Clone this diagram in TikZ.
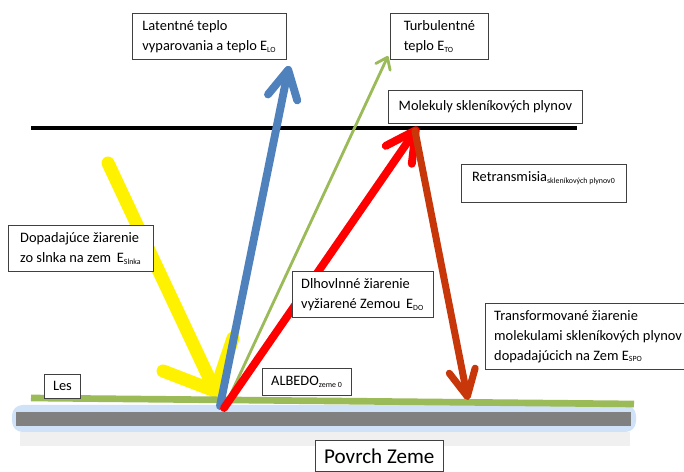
\documentclass[tikz,border=0pt]{standalone}
\usepackage{fontspec}
\setmainfont{Carlito}
\usetikzlibrary{arrows.meta}
\definecolor{modra}{RGB}{79,129,189}
\definecolor{zelena}{RGB}{155,187,89}
\definecolor{tmavocervena}{RGB}{200,55,10}
\definecolor{ziara}{RGB}{208,226,248}
\newcommand{\dolny}[1]{\textsubscript{\fontsize{4.5}{5}\selectfont #1}}

\begin{document}
\begin{tikzpicture}[x=0.02cm, y=-0.02cm,
    popis/.style={draw=black!75, fill=white, line width=0.5pt, anchor=north west,
      align=left, inner xsep=5pt, inner ysep=4pt, font=\fontsize{8.2}{11.3}\selectfont},
    luc/.style={line cap=round, line join=round}]
  \useasboundingbox (0,0) rectangle (684,472);

  \fill[ziara, rounded corners=6pt] (12,405) rectangle (636,432);
  \fill[black!6] (20,432) rectangle (630,446);
  \fill[black!50] (16,412) rectangle (631,426);
  \draw[line width=2pt] (31,128) -- (577,128);

  \coordinate (slnko) at (108,163);
  \coordinate (dopad) at (218,397);
  \coordinate (latentZ) at (220,406);
  \coordinate (latentK) at (289,66);
  \coordinate (turbZ) at (228,400);
  \coordinate (turbK) at (388,56);
  \coordinate (dlhoZ) at (224,408);
  \coordinate (molekula) at (418,127);
  \coordinate (retrZ) at (415,131);
  \coordinate (retrK) at (468,400);

  \draw[luc, yellow, line width=7.4pt, -{Straight Barb[length=23pt,width=44pt,round]}] (slnko) -- (dopad);
  \draw[zelena, line width=3.8pt] (31,398) -- (634,404);
  \draw[luc, modra, line width=4.5pt, -{Straight Barb[length=16pt,width=17pt,round]}] (latentZ) -- (latentK);
  \draw[luc, zelena, line width=1.6pt, -{Straight Barb[length=6pt,width=9pt,round]}] (turbZ) -- (turbK);
  \draw[luc, red, line width=4.5pt, -{Straight Barb[length=17pt,width=18pt,round]}] (dlhoZ) -- (molekula);
  \draw[luc, tmavocervena, line width=4pt, -{Straight Barb[length=15pt,width=15pt,round]}] (retrZ) -- (retrK);

  \node[popis, minimum width=3.08cm] (latent) at (132,13) {Latentné teplo\\vyparovania a teplo E\dolny{LO}};
  \node[popis, minimum width=1.96cm] (turb) at (390,13) {Turbulentné\\teplo E\dolny{TO}};
  \node[popis, minimum width=3.88cm, minimum height=0.66cm] (molekuly) at (388,90) {Molekuly skleníkových plynov};
  \node[popis, minimum width=3.3cm, text depth=8pt] (retrans) at (461,164) {Retransmisia\dolny{skleníkových plynov0}};
  \node[popis, minimum width=2.9cm] (dopadtext) at (8,225) {Dopadajúce žiarenie\\zo slnka na zem \,E\dolny{Slnka}};
  \node[popis, minimum width=2.72cm] (dlhovln) at (292,271) {Dlhovlnné žiarenie\\vyžiarené Zemou \,E\dolny{DO}};
  \node[popis, minimum width=3.94cm] (transf) at (485,303) {Transformované žiarenie\\molekulami skleníkových plynov\\dopadajúcich na Zem E\dolny{SPO}};
  \node[popis, minimum width=0.72cm, minimum height=0.48cm, inner xsep=3pt, inner ysep=2pt] (les) at (44,374) {Les};
  \node[popis, minimum width=1.78cm, minimum height=0.54cm, inner ysep=2pt] (albedo) at (262,368) {ALBEDO\dolny{zeme 0}};
  \node[popis, minimum width=2.24cm, minimum height=0.62cm, font=\fontsize{12}{14}\selectfont] (povrch) at (315,440) {Povrch Zeme};
\end{tikzpicture}
\end{document}
